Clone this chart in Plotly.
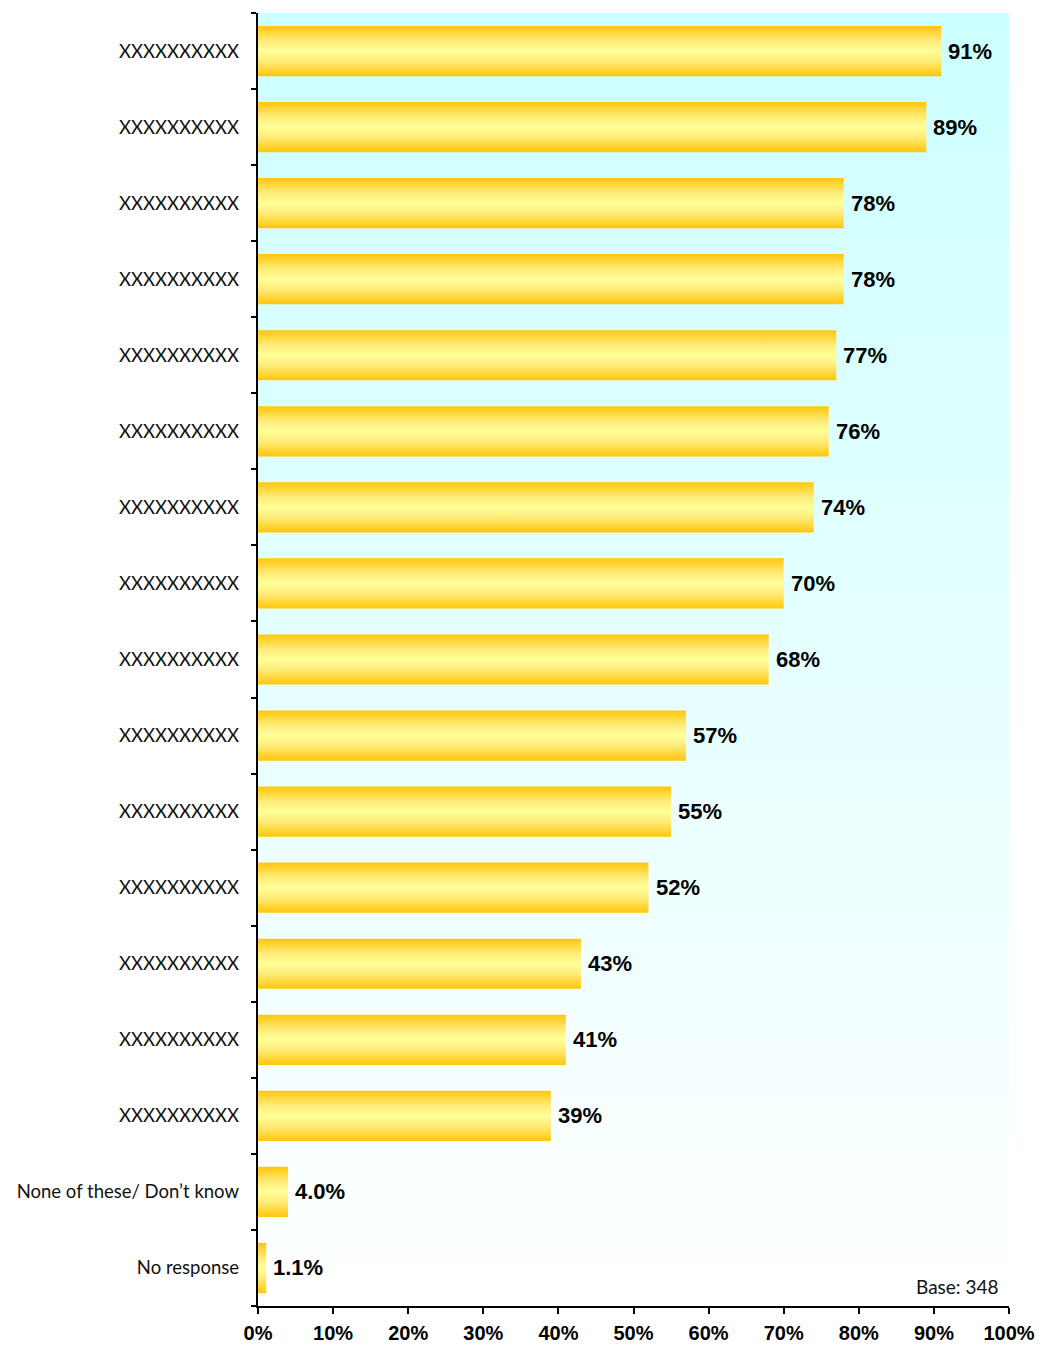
import plotly.graph_objects as go

# Survey items, listed top to bottom
categories = [
    "XXXXXXXXXX", "XXXXXXXXXX", "XXXXXXXXXX", "XXXXXXXXXX", "XXXXXXXXXX",
    "XXXXXXXXXX", "XXXXXXXXXX", "XXXXXXXXXX", "XXXXXXXXXX", "XXXXXXXXXX",
    "XXXXXXXXXX", "XXXXXXXXXX", "XXXXXXXXXX", "XXXXXXXXXX", "XXXXXXXXXX",
    "None of these/ Don\u2019t know", "No response",
]
# Share of respondents (%)
values = [91, 89, 78, 78, 77, 76, 74, 70, 68, 57, 55, 52, 43, 41, 39, 4.0, 1.1]
x_ticks = [0, 10, 20, 30, 40, 50, 60, 70, 80, 90, 100]
x_tick_text = [f"{t}%" for t in x_ticks]
base_note = "Base: 348"

n = len(categories)
# first item sits at the top of the axis
positions = [n - 1 - i for i in range(n)]
labels = [f"{v:.0f}%" if v >= 10 else f"{v:.1f}%" for v in values]
half = 0.33  # half bar thickness in category units

BAR_SCALE = [[0, "#FFC60A"], [0.3, "#FFEC7A"], [0.5, "#FFFF99"],
             [0.7, "#FFEC7A"], [1, "#FFC60A"]]

fig = go.Figure()

# plot-area background: pale cyan at the top fading to white at the bottom
lo, hi = -0.5, n - 0.5
fig.add_trace(go.Scatter(
    x=[x_ticks[0], x_ticks[-1], x_ticks[-1], x_ticks[0], x_ticks[0]],
    y=[lo, lo, hi, hi, lo],
    mode="lines", fill="toself", line=dict(width=0),
    fillgradient=dict(type="vertical",
                      colorscale=[[0, "#FFFFFF"], [1, "#CCFFFF"]]),
    hoverinfo="skip", showlegend=False,
))

# one gradient-filled bar per item
for v, p in zip(values, positions):
    fig.add_trace(go.Scatter(
        x=[0, v, v, 0, 0],
        y=[p - half, p - half, p + half, p + half, p - half],
        mode="lines", fill="toself", line=dict(width=0),
        fillgradient=dict(type="vertical", colorscale=BAR_SCALE),
        hoverinfo="skip", showlegend=False,
    ))

# category labels live on an overlaid axis so the main axis can tick between bars
fig.add_trace(go.Scatter(
    x=values, y=positions, yaxis="y2", mode="markers",
    marker=dict(size=1, opacity=0), hoverinfo="skip", showlegend=False,
))

for v, p, t in zip(values, positions, labels):
    fig.add_annotation(
        x=v, y=p, text=t, showarrow=False, xanchor="left", xshift=5,
        font=dict(family="Liberation Sans, Arial", size=22, color="#000000",
                  weight="bold"),
    )

fig.add_annotation(
    xref="paper", yref="paper", x=1, y=0, xanchor="right", yanchor="bottom",
    xshift=-8, yshift=6, text=base_note, showarrow=False,
    font=dict(family="Lato, Noto Sans", size=19, color="#111111"),
)

fig.update_layout(
    width=1046, height=1347,
    margin=dict(l=258, r=37, t=13, b=41),
    paper_bgcolor="white", plot_bgcolor="white",
    showlegend=False,
    xaxis=dict(
        range=[x_ticks[0], x_ticks[-1]], tickmode="array",
        tickvals=x_ticks, ticktext=x_tick_text,
        ticks="outside", ticklen=6, tickwidth=2, tickcolor="black",
        ticklabelstandoff=2, automargin=False,
        showline=True, linecolor="black", linewidth=2,
        showgrid=False, zeroline=False,
        tickfont=dict(family="Liberation Sans, Arial", size=20,
                      color="#000000", weight="bold"),
    ),
    yaxis=dict(
        range=[lo, hi], automargin=False,
        tickvals=[k - 0.5 for k in range(n + 1)],
        ticks="outside", ticklen=5, tickwidth=2, tickcolor="black",
        showticklabels=False,
        showline=True, linecolor="black", linewidth=2,
        showgrid=False, zeroline=False,
    ),
    yaxis2=dict(
        range=[lo, hi], overlaying="y", side="left", anchor="x",
        automargin=False,
        tickmode="array", tickvals=positions, ticktext=categories, ticks="",
        ticklabelstandoff=18,
        showline=False, showgrid=False, zeroline=False,
        tickfont=dict(family="Lato, Noto Sans", size=18.5, color="#111111"),
    ),
)

fig.write_html("out.html")
